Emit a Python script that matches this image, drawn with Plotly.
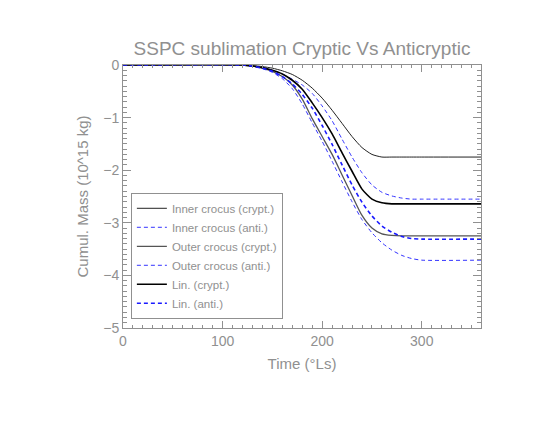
import plotly.graph_objects as go

# Time (deg Ls)
ls = [0, 120, 130, 140, 150, 160, 170, 180, 190, 200, 210, 220, 230, 240,
      250, 260, 270, 280, 290, 300, 360]

# Cumulative mass (10^15 kg)
inner_crypt = [0, 0, -0.01, -0.03, -0.06, -0.11, -0.18, -0.29, -0.44, -0.63, -0.86,
               -1.11, -1.36, -1.57, -1.70, -1.75, -1.75, -1.75, -1.75, -1.75, -1.75]
inner_anti = [0, 0, -0.02, -0.05, -0.10, -0.17, -0.27, -0.38, -0.54, -0.78, -1.06,
              -1.41, -1.75, -2.05, -2.28, -2.42, -2.49, -2.53, -2.55, -2.55, -2.55]
outer_crypt = [0, 0, -0.02, -0.06, -0.12, -0.22, -0.38, -0.65, -1.02, -1.36, -1.70,
               -2.09, -2.48, -2.86, -3.10, -3.21, -3.24, -3.25, -3.25, -3.25, -3.25]
outer_anti = [0, 0, -0.03, -0.07, -0.14, -0.26, -0.45, -0.74, -1.10, -1.45, -1.83,
              -2.22, -2.60, -2.94, -3.19, -3.38, -3.52, -3.62, -3.68, -3.71, -3.71]
lin_crypt = [0, 0, -0.02, -0.05, -0.10, -0.17, -0.29, -0.46, -0.72, -1.00, -1.31,
             -1.67, -2.02, -2.36, -2.55, -2.62, -2.64, -2.64, -2.64, -2.64, -2.64]
lin_anti = [0, 0, -0.02, -0.06, -0.12, -0.22, -0.36, -0.56, -0.82, -1.15, -1.51,
            -1.90, -2.28, -2.61, -2.87, -3.06, -3.18, -3.26, -3.30, -3.31, -3.31]

grey = "#909090"
fnt = "Liberation Sans"

series = [
    ("Inner crocus (crypt.)", inner_crypt, "#222222", 1, "solid"),
    ("Inner crocus (anti.)", inner_anti, "#3333ff", 1, "4px,3px"),
    ("Outer crocus (crypt.)", outer_crypt, "#555555", 1.3, "solid"),
    ("Outer crocus (anti.)", outer_anti, "#3333ff", 1, "4px,3px"),
    ("Lin. (crypt.)", lin_crypt, "#000000", 1.6, "solid"),
    ("Lin. (anti.)", lin_anti, "#1a1aff", 1.6, "4px,3px"),
]

fig = go.Figure()
for name, vals, col, w, dash in series:
    fig.add_trace(go.Scatter(x=ls, y=vals, name=name, mode="lines",
                             line=dict(color=col, width=w, dash=dash, shape="spline", smoothing=0.6)))

axis_common = dict(showgrid=False, zeroline=False, showline=True, linecolor=grey, linewidth=1,
                   mirror="allticks", ticks="inside", tickcolor=grey, automargin=False,
                   tickfont=dict(size=14, color=grey, family=fnt))

fig.update_xaxes(range=[0, 359.5], dtick=100, ticklen=7,
                 minor=dict(dtick=10, ticks="inside", ticklen=3, tickcolor=grey),
                 title=dict(text="Time (°Ls)", font=dict(size=15, color=grey, family=fnt), standoff=10),
                 **axis_common)
fig.update_yaxes(range=[-5, 0], dtick=1, ticklen=8,
                 minor=dict(dtick=0.1, ticks="inside", ticklen=4, tickcolor=grey),
                 title=dict(text="Cumul. Mass (10^15 kg)", font=dict(size=15, color=grey, family=fnt), standoff=10),
                 **axis_common)

# page body adds 8px offset, so the figure is a little smaller than the window
fig.update_layout(
    width=537, height=413,
    margin=dict(l=115, r=64, t=57, b=93),
    plot_bgcolor="white", paper_bgcolor="white",
    title=dict(text="SSPC sublimation Cryptic Vs Anticryptic", x=0.5475, xanchor="center",
               y=0.903, yanchor="middle", font=dict(size=19, color=grey, family=fnt)),
    legend=dict(x=0.022, y=0.035, xanchor="left", yanchor="bottom", bgcolor="white",
                bordercolor=grey, borderwidth=1, font=dict(size=11.5, color=grey, family=fnt),
                tracegroupgap=0),
    showlegend=True,
)

fig.write_html("out.html")
